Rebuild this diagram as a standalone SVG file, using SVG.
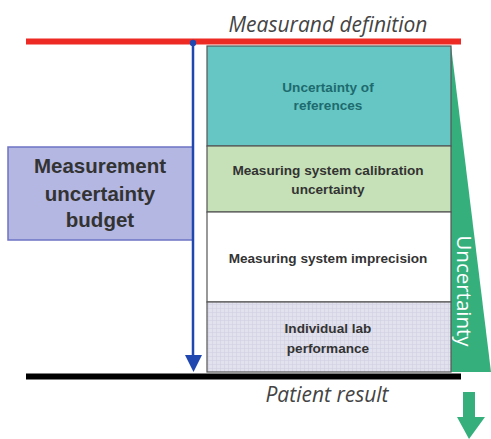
<svg xmlns="http://www.w3.org/2000/svg" width="491" height="439" viewBox="0 0 491 439">
<style>
.lbl{font-family:"Liberation Sans",Arial,sans-serif;font-weight:bold;font-size:13.6px;fill:#333;text-anchor:middle}
.ital{font-family:"Open Sans","Liberation Sans",sans-serif;font-style:italic;font-size:21px;fill:#444;text-anchor:middle}
.box{stroke:#555;stroke-width:1.2}
</style>
<defs>
<pattern id="grid" width="4" height="4" patternUnits="userSpaceOnUse">
<rect width="4" height="4" fill="#E2E2EE"/>
<path d="M0 0.5H4M0.5 0V4" stroke="#D0D0E2" stroke-width="0.6"/>
</pattern>
</defs>
<g id="title-top"><text class="ital" x="328" y="32">Measurand definition</text></g>
<g id="title-bottom"><text class="ital" x="327" y="402">Patient result</text></g>
<g id="uncertainty-wedge">
<polygon points="451,46 491,372 451,372" fill="#35B07D"/>
<text x="462" y="291" transform="rotate(90 462 291)" font-family="Open Sans,Liberation Sans,sans-serif" font-size="20.5" fill="#fff" text-anchor="middle" dominant-baseline="middle">Uncertainty</text>
</g>
<g id="budget">
<rect x="8" y="147" width="185" height="93" fill="#B3B7E1" stroke="#6E74C4" stroke-width="1.5"/>
<text font-family="Liberation Sans,Arial,sans-serif" font-weight="bold" font-size="20.5" fill="#333" text-anchor="middle"><tspan x="100" y="173">Measurement</tspan><tspan x="100" y="201">uncertainty</tspan><tspan x="100" y="227">budget</tspan></text>
</g>
<g id="references">
<rect class="box" x="207" y="46" width="244" height="100" fill="#66C6C4"/>
<text class="lbl" style="fill:#1D6B6E"><tspan x="328" y="92">Uncertainty of</tspan><tspan x="328" y="110">references</tspan></text>
</g>
<g id="calibration">
<rect class="box" x="207" y="146" width="244" height="66" fill="#C6E1B7"/>
<text class="lbl"><tspan x="328" y="175">Measuring system calibration</tspan><tspan x="328" y="194">uncertainty</tspan></text>
</g>
<g id="imprecision">
<rect class="box" x="207" y="212" width="244" height="90" fill="#fff"/>
<text class="lbl" x="328" y="263">Measuring system imprecision</text>
</g>
<g id="lab">
<rect class="box" x="207" y="302" width="244" height="70" fill="url(#grid)"/>
<text class="lbl"><tspan x="328" y="333">Individual lab</tspan><tspan x="328" y="353">performance</tspan></text>
</g>
<g id="connectors">
<line x1="26" y1="41.5" x2="461" y2="41.5" stroke="#EE2A24" stroke-width="6"/>
<line x1="26" y1="376.5" x2="461" y2="376.5" stroke="#000" stroke-width="6"/>
<line x1="193" y1="43" x2="193" y2="356" stroke="#2046B0" stroke-width="2.5"/>
<polygon points="185,355 202,355 193.5,372" fill="#2046B0"/>
<circle cx="193" cy="43" r="3.2" fill="#2046B0"/>
<polygon points="463,392 475,392 475,417 485,417 469,439 457,417 463,417" fill="#35B07D"/>
</g>
</svg>
